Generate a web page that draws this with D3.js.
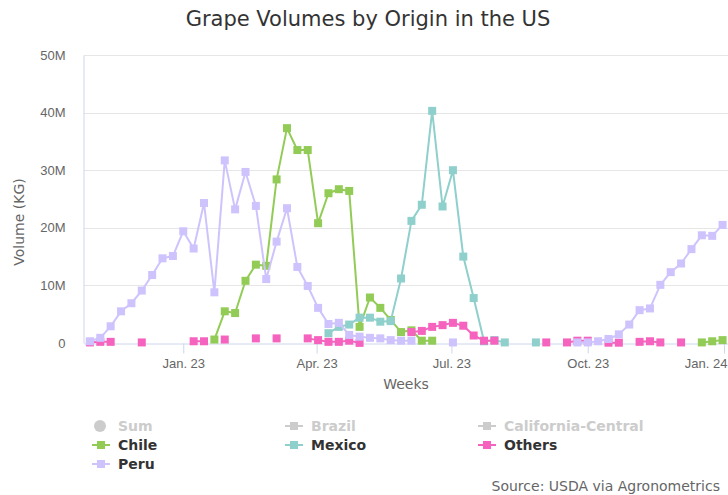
<!DOCTYPE html>
<meta charset="utf-8">
<title>Grape Volumes by Origin in the US</title>
<style>
body {
  margin: 0;
  background: #fff;
}
svg {
  display: block;
  font-family: "DejaVu Sans", sans-serif;
}
</style>
<body></body>
<script src="https://d3js.org/d3.v7.min.js"></script>
<script>
// weekly data, in millions of KG, starting the week of Oct 30 2022
var firstWeek = new Date(2022, 9, 30),
    weekCount = 62;

var chile = [null, null, null, null, null, null, null, null, null, null,
  null, null, 0.6, 5.5, 5.2, 10.8, 13.6, 13.4, 28.4, 37.3,
  33.5, 33.5, 20.8, 26.0, 26.7, 26.4, 2.8, 7.9, 6.1, 4.0,
  1.9, 2.2, 0.4, 0.4, null, null, null, null, null, null,
  null, null, null, null, null, null, null, null, null, null,
  null, null, null, null, null, null, null, null, null, 0.1,
  0.3, 0.5];

var mexico = [null, null, null, null, null, null, null, null, null, null,
  null, null, null, null, null, null, null, null, null, null,
  null, null, null, 1.7, 2.8, 3.2, 4.4, 4.4, 3.7, 3.8,
  11.2, 21.2, 24.0, 40.3, 23.7, 30.0, 15.0, 7.8, 0.3, 0.5,
  0.1, null, null, 0.1, null, null, null, null, null, null,
  null, null, null, null, null, null, null, null, null, null,
  null, null];

var others = [0.1, 0.2, 0.2, null, null, 0.1, null, null, null, null,
  0.3, 0.3, null, 0.6, null, null, 0.8, null, 0.8, null,
  null, 0.8, 0.5, 0.2, 0.2, 0.4, 0.02, null, null, null,
  null, 1.9, 2.1, 2.8, 3.1, 3.5, 3.0, 1.3, 0.4, 0.4,
  null, null, null, null, 0.1, null, 0.1, 0.4, 0.4, null,
  0.05, 0.05, null, 0.2, 0.3, 0.1, null, 0.1, null, null,
  null, null];

var peru = [0.3, 0.9, 2.9, 5.5, 6.9, 9.1, 11.8, 14.7, 15.1, 19.4,
  16.4, 24.3, 8.8, 31.7, 23.2, 29.7, 23.8, 11.1, 17.6, 23.4,
  13.2, 9.9, 6.1, 3.3, 3.5, 1.4, 1.1, 0.9, 0.8, 0.5,
  0.4, 0.4, null, null, null, 0.1, null, null, null, null,
  null, null, null, null, null, null, null, 0.1, 0.1, 0.3,
  0.7, 1.5, 3.2, 5.7, 6.0, 10.1, 12.3, 13.8, 16.3, 18.7,
  18.6, 20.5];

var yTicks = [0, 10, 20, 30, 40, 50],
    yTickLabels = ['0', '10M', '20M', '30M', '40M', '50M'];

var xTicks = [new Date(2023, 0, 1), new Date(2023, 3, 1), new Date(2023, 6, 1),
              new Date(2023, 9, 1), new Date(2024, 0, 1)],
    xTickLabels = ['Jan. 23', 'Apr. 23', 'Jul. 23', 'Oct. 23', 'Jan. 24'];

var legendItems = [
  { name: 'Sum', color: '#cccccc', hidden: true, circle: true },
  { name: 'Brazil', color: '#cccccc', hidden: true },
  { name: 'California-Central', color: '#cccccc', hidden: true },
  { name: 'Chile', color: '#92cc57' },
  { name: 'Mexico', color: '#8fcfcc' },
  { name: 'Others', color: '#f563bf' },
  { name: 'Peru', color: '#cfc3fd' }
];

var series = [
  { name: 'Chile', values: chile, color: '#92cc57' },
  { name: 'Mexico', values: mexico, color: '#8fcfcc' },
  { name: 'Others', values: others, color: '#f563bf' },
  { name: 'Peru', values: peru, color: '#cfc3fd' }
];

var width = 728,
    height = 495,
    plotLeft = 84,
    plotTop = 55,
    plotBottom = 343;

var weeks = d3.range(weekCount).map(function (i) {
  return d3.timeWeek.offset(firstWeek, i);
});

var x = d3.scaleTime()
  .domain([new Date(2022, 9, 26), new Date(2024, 0, 4)])
  .range([plotLeft, 728.5]);

var y = d3.scaleLinear()
  .domain([0, 50])
  .range([plotBottom, plotTop]);

var svg = d3.select('body').append('svg')
  .attr('width', width)
  .attr('height', height);

svg.append('text')
  .attr('x', 368)
  .attr('y', 26)
  .attr('text-anchor', 'middle')
  .style('font-size', '21px')
  .style('fill', '#333')
  .text('Grape Volumes by Origin in the US');

// grid
svg.append('g')
  .selectAll('line')
  .data(yTicks.slice(1))
  .enter().append('line')
  .attr('x1', plotLeft)
  .attr('x2', width)
  .attr('y1', function (d) { return Math.round(y(d)) + 0.5; })
  .attr('y2', function (d) { return Math.round(y(d)) + 0.5; })
  .style('stroke', '#e6e6e6');

var yAxis = svg.append('g')
  .attr('transform', 'translate(' + (plotLeft - 0.5) + ',0)')
  .call(d3.axisLeft(y).tickValues(yTicks).tickSize(0).tickPadding(18)
    .tickFormat(function (d, i) { return yTickLabels[i]; }));
yAxis.select('.domain').style('stroke', '#ccd6eb');
yAxis.selectAll('text').style('font-size', '13px').style('fill', '#666')
  .attr('font-family', null);

var xAxis = svg.append('g')
  .attr('transform', 'translate(0,' + (plotBottom + 0.5) + ')')
  .call(d3.axisBottom(x).tickValues(xTicks).tickSize(10).tickSizeOuter(0).tickPadding(5)
    .tickFormat(function (d, i) { return xTickLabels[i]; }));
xAxis.select('.domain').style('stroke', '#ccd6eb');
xAxis.selectAll('.tick line').style('stroke', '#ccd6eb');
xAxis.selectAll('text').style('font-size', '13px').style('fill', '#666')
  .attr('font-family', null);
// last label would run past the right edge: pin it to the edge
xAxis.selectAll('.tick text')
  .filter(function (d, i) { return i === xTicks.length - 1; })
  .attr('text-anchor', 'end')
  .attr('x', width - 1 - x(xTicks[xTicks.length - 1]));

svg.append('text')
  .attr('x', (plotLeft + width) / 2)
  .attr('y', 389)
  .attr('text-anchor', 'middle')
  .style('font-size', '14px')
  .style('fill', '#666')
  .text('Weeks');

svg.append('text')
  .attr('transform', 'translate(24,222) rotate(-90)')
  .attr('text-anchor', 'middle')
  .style('font-size', '14px')
  .style('fill', '#666')
  .text('Volume (KG)');

// series
var line = d3.line()
  .defined(function (d) { return d.v !== null; })
  .x(function (d) { return x(d.date); })
  .y(function (d) { return y(d.v); });

series.forEach(function (s) {
  var pts = s.values.map(function (v, i) { return { date: weeks[i], v: v }; });
  var g = svg.append('g');
  g.append('path')
    .datum(pts)
    .attr('d', line)
    .style('fill', 'none')
    .style('stroke', s.color)
    .style('stroke-width', 2)
    .style('stroke-linejoin', 'round');
  g.selectAll('rect')
    .data(pts.filter(function (d) { return d.v !== null; }))
    .enter().append('rect')
    .attr('x', function (d) { return x(d.date) - 4; })
    .attr('y', function (d) { return y(d.v) - 4; })
    .attr('width', 8)
    .attr('height', 8)
    .style('fill', s.color);
});

// legend
var legend = svg.append('g');
var item = legend.selectAll('g')
  .data(legendItems)
  .enter().append('g')
  .attr('transform', function (d, i) {
    return 'translate(' + (92 + (i % 3) * 193) + ',' + (426 + Math.floor(i / 3) * 19) + ')';
  });
item.each(function (d) {
  var el = d3.select(this);
  if (d.circle) {
    el.append('circle').attr('cx', 8).attr('cy', 0).attr('r', 6).style('fill', d.color);
  } else {
    el.append('line').attr('x1', 0).attr('x2', 18).attr('y1', 0).attr('y2', 0)
      .style('stroke', d.color).style('stroke-width', 2);
    el.append('rect').attr('x', 5).attr('y', -4).attr('width', 8).attr('height', 8)
      .style('fill', d.color);
  }
});
item.append('text')
  .attr('x', 26)
  .attr('y', 5)
  .style('font-size', '14px')
  .style('font-weight', 'bold')
  .style('fill', function (d) { return d.hidden ? '#cccccc' : '#333'; })
  .text(function (d) { return d.name; });

svg.append('text')
  .attr('x', 720)
  .attr('y', 491)
  .attr('text-anchor', 'end')
  .style('font-size', '14px')
  .style('fill', '#666')
  .text('Source: USDA via Agronometrics');
</script>
